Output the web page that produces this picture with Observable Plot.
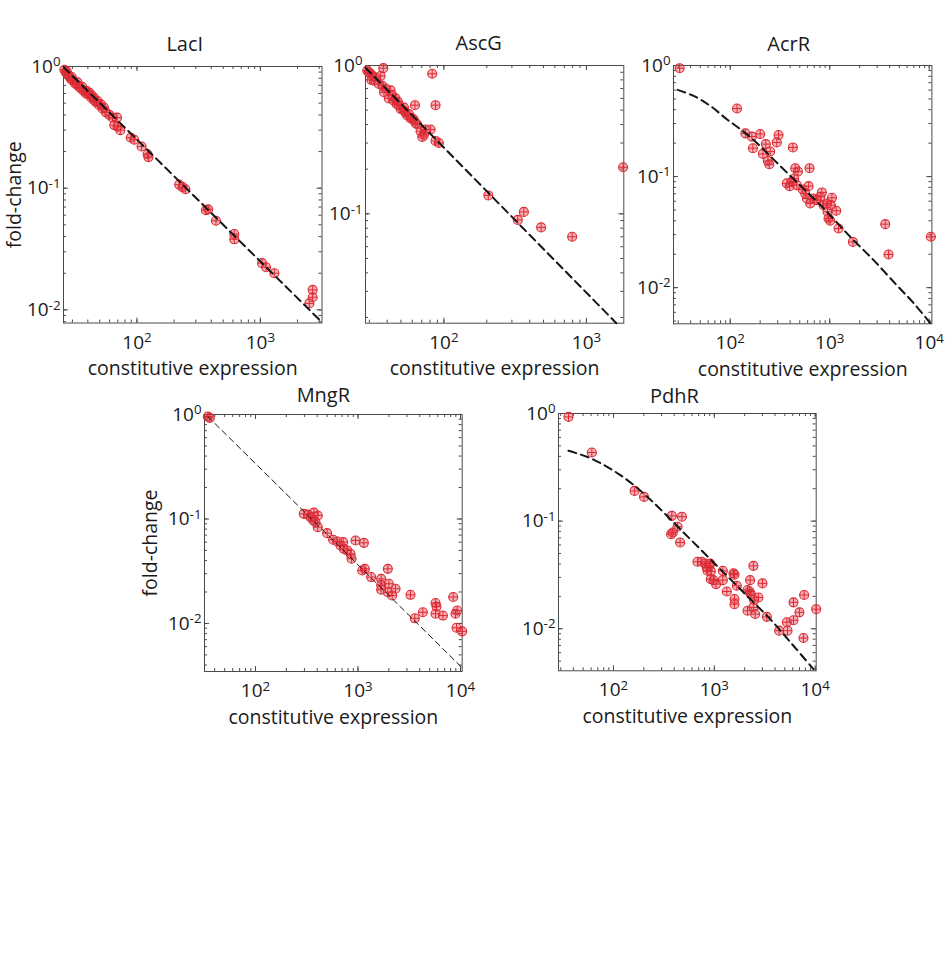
<!DOCTYPE html>
<html><head><meta charset="utf-8">
<script src="https://cdn.jsdelivr.net/npm/d3@7"></script>
<script src="https://cdn.jsdelivr.net/npm/@observablehq/plot@0.6"></script>
<style>
html,body{margin:0;padding:0;background:#fff;}
#wrap{position:relative;width:947px;height:959px;overflow:hidden;font-family:"Open Sans",sans-serif;}
#wrap svg{position:absolute;overflow:visible;}
</style></head><body><div id="wrap"></div>
<script>
// ---------- data ----------
const titles = ["LacI", "AscG", "AcrR", "MngR", "PdhR"];
const xLabel = "constitutive expression";
const yLabel = "fold-change";

const laciX = [25.8,26.5,27.4,28.3,29.2,30.1,31.4,32.6,34.1,35.2,37.0,38.6,40.3,42.4,44.6,46.6,49.5,52.7,56.1,59.7,63.5,68.9,65.5,69.7,73.3,89.3,95.1,109,122,124,220,234,247,362,378,437,615,615,1032,1112,1300,2495,2655,2655,27,29.6,33,36,39,41,43,45,48,51,54];
const laciY = [0.94,0.90,0.86,0.83,0.79,0.77,0.73,0.71,0.68,0.66,0.63,0.60,0.59,0.56,0.53,0.51,0.48,0.45,0.42,0.40,0.38,0.38,0.33,0.32,0.30,0.26,0.25,0.22,0.19,0.18,0.107,0.102,0.098,0.066,0.067,0.054,0.042,0.038,0.0242,0.0224,0.0200,0.0113,0.0127,0.0146,0.91,0.82,0.74,0.68,0.63,0.61,0.58,0.55,0.52,0.49,0.46];
const laciFitX = [25.4, 3160];
const laciFitY = [0.99, 0.0079];

const ascgX = [29.0,30.3,31.4,31.0,33.2,36.0,37.6,37.0,38.0,41.1,42.3,44.6,46.6,48.4,49.7,51.9,53.9,55.3,58.4,61.6,62.7,65.0,68.6,72.4,74.3,80.7,82.8,87.4,87.4,92.2,70.5,205,330,364,481,794,1807,29.7,32.3,35.0,39.0,43.4,45.8,47.6,52.5,56.9,60.0,63.3];
const ascgY = [0.925,0.89,0.86,0.80,0.83,0.85,0.96,0.73,0.66,0.60,0.68,0.58,0.55,0.54,0.51,0.50,0.48,0.46,0.44,0.43,0.54,0.40,0.36,0.34,0.37,0.37,0.88,0.54,0.31,0.30,0.33,0.133,0.091,0.103,0.081,0.070,0.206,0.90,0.79,0.75,0.70,0.63,0.60,0.57,0.52,0.47,0.44,0.41];
const ascgFitX = [28.2, 1622];
const ascgFitY = [0.965, 0.0183];

const acrrX = [31.0,117,142,165,169,200,213,228,239,247,252,294,306,371,395,417,426,440,450,479,467,537,567,590,613,627,637,688,743,803,834,867,937,951,973,1011,1027,1052,1163,1227,1710,3614,3900,10400];
const acrrY = [0.946,0.41,0.245,0.229,0.180,0.242,0.160,0.196,0.138,0.129,0.168,0.203,0.237,0.0868,0.082,0.090,0.183,0.096,0.119,0.111,0.0838,0.0766,0.0705,0.0635,0.082,0.119,0.0573,0.0635,0.0614,0.0658,0.0720,0.0553,0.0573,0.0482,0.0420,0.0400,0.0553,0.0644,0.0492,0.0341,0.0258,0.0373,0.0199,0.0287];
const acrrFitX = [29.6,42.8,63.0,92.5,136,200,295,434,637,937,1607,2760,4732,6964,10240];
const acrrFitY = [0.603,0.532,0.433,0.328,0.254,0.188,0.133,0.0949,0.0681,0.0482,0.0287,0.0177,0.0105,0.00727,0.0048];

const mngrX = [34.3,35.8,296,327,344,366,371,405,385,405,500,572,627,675,716,727,784,845,865,946,1140,1099,1166,1344,1682,1682,1682,2000,1954,1954,2153,2322,3251,3581,4291,5703,5836,5703,6730,8480,8930,9270,9140,10380];
const mngrY = [0.957,0.929,0.112,0.110,0.104,0.0968,0.115,0.108,0.0933,0.0835,0.0732,0.0632,0.0609,0.0557,0.0601,0.0518,0.0500,0.0464,0.0416,0.0623,0.0591,0.0321,0.0333,0.0278,0.0267,0.0234,0.0210,0.0240,0.0333,0.0199,0.0185,0.0215,0.0188,0.0112,0.0128,0.0157,0.0145,0.0124,0.0119,0.0179,0.0124,0.0133,0.0091,0.0084];
const mngrFitX = [34.3, 10380];
const mngrFitY = [0.957, 0.00376];

const pdhrX = [35.8,61.0,162,201,379,477,432,373,387,458,681,752,811,843,856,895,909,923,923,981,1042,1214,1214,1330,1549,1585,1585,1585,1672,2134,2234,2303,2134,2265,2442,2442,2482,2541,2742,3004,3319,4397,5240,5320,6100,6100,6990,7660,7780,10240];
const pdhrY = [0.93,0.434,0.191,0.168,0.112,0.110,0.0886,0.0757,0.0785,0.0634,0.0419,0.0419,0.0404,0.0371,0.0346,0.0384,0.0404,0.0341,0.0289,0.0283,0.0260,0.0346,0.0283,0.0222,0.0327,0.0318,0.0189,0.0169,0.0251,0.0229,0.0222,0.0210,0.0147,0.0283,0.0384,0.0158,0.0185,0.0137,0.0195,0.0264,0.0129,0.0096,0.0115,0.0096,0.0120,0.0176,0.0142,0.0082,0.0206,0.0152];
const pdhrFitX = [35.8,54.5,79.6,116,170,249,425,724,1233,2100,3578,6095,9610];
const pdhrFitY = [0.450,0.396,0.334,0.269,0.205,0.149,0.0905,0.0550,0.0334,0.0203,0.0123,0.00695,0.00422];

// axis domains and tick labels
const xDomains = [[25.4,3160],[28.2,1828],[26.9,10640],[31.8,10380],[28.5,10240]];
const yDomains = [[0.0078,1],[0.0183,1],[0.00473,1],[0.00347,1],[0.00407,1]];
const xTickVals = [[100,1000],[100,1000],[100,1000,10000],[100,1000,10000],[100,1000,10000]];
const yTickVals = [[1,0.1,0.01],[1,0.1],[1,0.1,0.01],[1,0.1,0.01],[1,0.1,0.01]];

// ---------- layout ----------
const frames = [
  {left:62.5, top:66,   w:258.5, h:256.5, tdx:-8,  tdy:-22, ylab:-49,   fitW:2, dash:"8,5"},
  {left:365,  top:65,   w:258.3, h:257.7, tdx:-16, tdy:-22, ylab:null,  fitW:2, dash:"8,5"},
  {left:673.3,top:65,   w:258.4, h:258.3, tdx:-14, tdy:-21, ylab:null,  fitW:2, dash:"8,5"},
  {left:204,  top:414,  w:257.7, h:257,   tdx:-10, tdy:-19, ylab:-54,   fitW:1, dash:"6,4"},
  {left:558.3,top:412.7,w:257.7, h:257.3, tdx:-13, tdy:-17, ylab:null,  fitW:2, dash:"8,5"}
];
const series = [
  [laciX, laciY, laciFitX, laciFitY],
  [ascgX, ascgY, ascgFitX, ascgFitY],
  [acrrX, acrrY, acrrFitX, acrrFitY],
  [mngrX, mngrY, mngrFitX, mngrFitY],
  [pdhrX, pdhrY, pdhrFitX, pdhrFitY]
];

const RED = "#dc2a34", AX = "#4a4a4a";
const mL = 62, mR = 20, mT = 40, mB = 60;

function logTicks([a, b]) {
  const out = [];
  for (let k = Math.floor(Math.log10(a)); k <= Math.ceil(Math.log10(b)); k++)
    for (let m = 1; m <= 9; m++) { const v = m * Math.pow(10, k); if (v >= a * 1.0001 && v <= b / 1.0001) out.push(v); }
  return out;
}
const fmt = d => "10^" + Math.round(Math.log10(d));

function superscripts(svg) {
  svg.querySelectorAll('g[aria-label$="tick label"] text').forEach(t => {
    const m = t.textContent.match(/^10\^(-?\d+)$/);
    if (!m) return;
    t.textContent = "";
    const ns = "http://www.w3.org/2000/svg";
    const a = document.createElementNS(ns, "tspan"); a.textContent = "10";
    const b = document.createElementNS(ns, "tspan");
    b.setAttribute("dy", "-0.48em"); b.setAttribute("font-size", "0.7em"); b.textContent = m[1];
    t.append(a, b);
  });
}

const wrap = document.getElementById("wrap");
frames.forEach((f, i) => {
  const [xs, ys, fx, fy] = series[i];
  const pts = xs.map((x, j) => ({x, y: ys[j]}));
  const fit = fx.map((x, j) => ({x, y: fy[j]}));
  const xMinor = logTicks(xDomains[i]), yMinor = logTicks(yDomains[i]);
  const xMaj = xTickVals[i], yMaj = yTickVals[i];
  const marks = [
    Plot.frame({stroke: AX, strokeWidth: 1}),
    Plot.tickX(xMinor, {x: d => d, insetTop: f.h - 3, stroke: AX}),
    Plot.tickX(xMinor, {x: d => d, insetBottom: f.h - 3, stroke: AX}),
    Plot.tickY(yMinor, {y: d => d, insetRight: f.w - 3, stroke: AX}),
    Plot.tickY(yMinor, {y: d => d, insetLeft: f.w - 3, stroke: AX}),
    Plot.tickX(xMaj, {x: d => d, insetTop: f.h - 5, stroke: AX}),
    Plot.tickX(xMaj, {x: d => d, insetBottom: f.h - 5, stroke: AX}),
    Plot.tickY(yMaj, {y: d => d, insetRight: f.w - 5, stroke: AX}),
    Plot.tickY(yMaj, {y: d => d, insetLeft: f.w - 5, stroke: AX}),
    Plot.axisX({ticks: xMaj, anchor: "bottom", tickSize: 0, tickPadding: 12, tickFormat: fmt, fontSize: 19, fill: "#1a1a1a", label: null}),
    Plot.axisY({ticks: yMaj, anchor: "left", tickSize: 0, tickPadding: 3, tickFormat: fmt, fontSize: 19, fill: "#1a1a1a", label: null}),
    Plot.dot(pts, {x: "x", y: "y", r: 4.5, stroke: RED, strokeWidth: 1.1, fill: "rgba(228,70,82,0.42)"}),
    Plot.dot(pts, {x: "x", y: "y", r: 2.9, symbol: "plus", stroke: RED, strokeWidth: 1}),
    Plot.line(fit, {x: "x", y: "y", stroke: "#151515", strokeWidth: f.fitW, strokeDasharray: f.dash, curve: "catmull-rom"}),
    Plot.text([titles[i]], {frameAnchor: "top", dx: f.tdx, dy: f.tdy, lineAnchor: "middle", fontSize: 20, fill: "#1a1a1a"}),
    Plot.text([xLabel], {frameAnchor: "bottom", dy: 46, lineAnchor: "middle", fontSize: 19.5, fill: "#1a1a1a"})
  ];
  if (f.ylab !== null) marks.push(Plot.text([yLabel], {frameAnchor: "left", dx: f.ylab, rotate: -90, lineAnchor: "middle", textAnchor: "middle", fontSize: 19.5, fill: "#1a1a1a"}));
  const svg = Plot.plot({
    width: mL + f.w + mR, height: mT + f.h + mB,
    marginLeft: mL, marginRight: mR, marginTop: mT, marginBottom: mB,
    x: {type: "log", domain: xDomains[i], axis: null},
    y: {type: "log", domain: yDomains[i], axis: null},
    style: {fontFamily: "'Open Sans', sans-serif", fontSize: "19px", background: "transparent", overflow: "visible"},
    marks
  });
  superscripts(svg);
  svg.style.left = (f.left - mL) + "px";
  svg.style.top = (f.top - mT) + "px";
  wrap.appendChild(svg);
});
</script>
</body></html>
